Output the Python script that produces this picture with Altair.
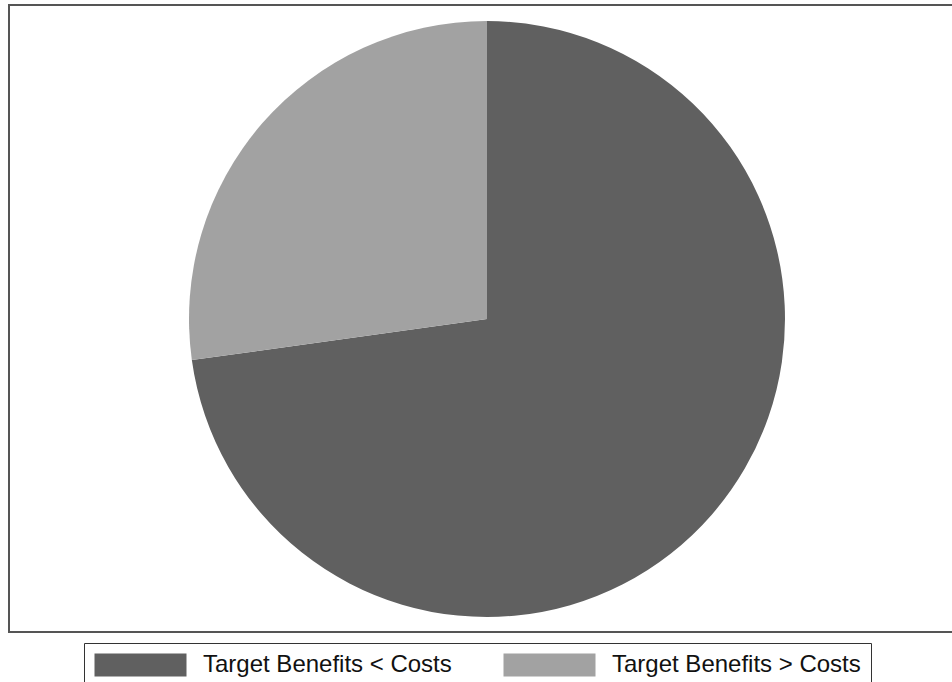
import altair as alt
import pandas as pd

# Share of targets by benefit/cost comparison (percent)
categories = ["Target Benefits < Costs", "Target Benefits > Costs"]
shares = [72.8, 27.2]
slice_order = [0, 1]
colors = ["#606060", "#a2a2a2"]

df = pd.DataFrame({"group": categories, "share": shares, "order": slice_order})

# Wide rectangular legend swatch: the path is scaled by sqrt(size)/2
swatch_path = "M-1,-1H7V1H-1Z"

pie = (
    alt.Chart(df)
    .mark_arc(radius=298, stroke=None)
    .encode(
        theta=alt.Theta("share:Q", stack=True),
        order=alt.Order("order:Q"),
        color=alt.Color(
            "group:N",
            scale=alt.Scale(domain=categories, range=colors),
            legend=alt.Legend(
                title=None,
                orient="none",
                legendX=75,
                legendY=638,
                direction="horizontal",
                symbolType=swatch_path,
                symbolSize=529,
                symbolStrokeWidth=0,
                symbolOpacity=1,
                labelFont="Liberation Sans",
                labelFontSize=24,
                labelColor="#111111",
                labelOffset=85,
                labelLimit=400,
                columnPadding=51,
                padding=10,
                fillColor="white",
                strokeColor="#333333",
            ),
        ),
        x=alt.value(478),
        y=alt.value(314),
    )
)

chart = (
    pie.properties(
        width=945,
        height=627,
        autosize=alt.AutoSizeParams(type="none"),
        padding={"left": 9, "top": 5, "right": -2, "bottom": 50},
        background="white",
    )
    .configure_view(stroke="#555555", strokeWidth=2)
)

chart.save("out.html", embed_options={"renderer": "svg", "actions": False})
